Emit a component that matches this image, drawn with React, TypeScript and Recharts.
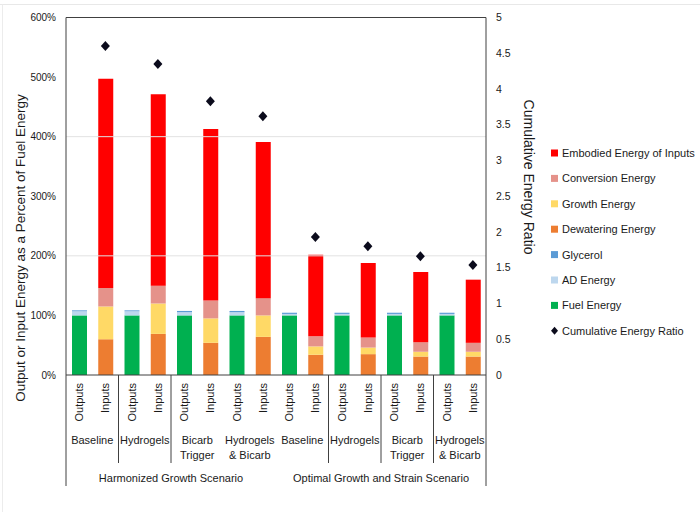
import React from 'react';
import { ComposedChart, Bar, Line, XAxis, YAxis, ReferenceLine } from 'recharts';

const groups = ['Baseline', 'Hydrogels', 'Bicarb|Trigger', 'Hydrogels|& Bicarb', 'Baseline', 'Hydrogels', 'Bicarb|Trigger', 'Hydrogels|& Bicarb'];
const scenarios = ['Harmonized Growth Scenario', 'Optimal Growth and Strain Scenario'];
const sides = ['Outputs', 'Inputs'];

const fuelEnergy = [100, 100, 100, 100, 100, 100, 100, 100];
const adEnergy = [7, 7, 5.5, 5.5, 2.5, 2.5, 2.5, 2.5];
const glycerol = [1.5, 1.5, 2, 2, 2, 2, 2, 2];
const dewateringEnergy = [60, 69, 54, 64, 34, 35, 31, 31];
const growthEnergy = [55, 51, 41, 36, 14, 11, 8, 8];
const conversionEnergy = [31, 30, 30, 29, 17, 17, 16, 15];
const embodiedEnergy = [351, 321, 288, 262, 137, 125, 118, 106];
const cumulativeRatio = [4.6, 4.35, 3.83, 3.62, 1.93, 1.8, 1.66, 1.54];

const leftTicks = [0, 100, 200, 300, 400, 500, 600];
const rightTicks = [0, 0.5, 1, 1.5, 2, 2.5, 3, 3.5, 4, 4.5, 5];
const gridValues = [200, 400];
// groups after which the reference draws no short separator line
const noSeparatorAfter = [2, 3];

const series = [
  { key: 'fuel', name: 'Fuel Energy', color: '#00B050', values: fuelEnergy, side: 'Outputs' },
  { key: 'ad', name: 'AD Energy', color: '#BDD7EE', values: adEnergy, side: 'Outputs' },
  { key: 'gly', name: 'Glycerol', color: '#5B9BD5', values: glycerol, side: 'Outputs' },
  { key: 'dew', name: 'Dewatering Energy', color: '#ED7D31', values: dewateringEnergy, side: 'Inputs' },
  { key: 'growth', name: 'Growth Energy', color: '#FFD966', values: growthEnergy, side: 'Inputs' },
  { key: 'conv', name: 'Conversion Energy', color: '#E5928A', values: conversionEnergy, side: 'Inputs' },
  { key: 'emb', name: 'Embodied Energy of Inputs', color: '#FF0000', values: embodiedEnergy, side: 'Inputs' },
];

const data = groups.flatMap((g, gi) =>
  sides.map((side) => {
    const row: any = { key: `${gi}-${side}`, side, group: gi };
    series.forEach((s) => {
      if (s.side === side) row[s.key] = s.values[gi];
    });
    if (side === 'Inputs') row.ratio = cumulativeRatio[gi];
    return row;
  })
);

const FONT = '"Liberation Sans", Arial, sans-serif';
const TEXT = '#1a1a1a';
const AXIS = '#404040';
const W = 700;
const H = 512;
const M = { top: 17.5, right: 184, left: 10, bottom: 0 };
const LEFT_W = 56;
const RIGHT_W = 30;
const PLOT_W = W - M.left - M.right - LEFT_W - RIGHT_W;
const BAND = PLOT_W / data.length;

function XTick(props: any) {
  const { x, y, index } = props;
  const row = data[index];
  if (!row) return <g />;
  const els: any[] = [];
  els.push(
    <text
      key="s"
      transform={`translate(${x},${y + 8}) rotate(-90)`}
      textAnchor="end"
      dominantBaseline="central"
      fontSize={11}
      fill={TEXT}
      fontFamily={FONT}
    >
      {row.side}
    </text>
  );
  if (index === 0) {
    els.push(<line key="l0" x1={x - BAND / 2} x2={x - BAND / 2} y1={y} y2={y + 111} stroke={AXIS} strokeWidth={1} />);
  }
  if (row.side === 'Inputs') {
    const gi = row.group;
    const lines = groups[gi].split('|');
    lines.forEach((t, li) => {
      els.push(
        <text
          key={'g' + li}
          x={x - BAND / 2}
          y={y + 65 + li * 15}
          textAnchor="middle"
          dominantBaseline="central"
          fontSize={11}
          fill={TEXT}
          fontFamily={FONT}
        >
          {t}
        </text>
      );
    });
    const last = index === data.length - 1;
    if (!noSeparatorAfter.includes(gi)) {
      els.push(
        <line key="sep" x1={x + BAND / 2} x2={x + BAND / 2} y1={y} y2={y + (last ? 111 : 88)} stroke={AXIS} strokeWidth={1} />
      );
    }
    if (gi === 1 || gi === 5) {
      els.push(
        <text
          key="sc"
          x={x + BAND / 2}
          y={y + 103}
          textAnchor="middle"
          dominantBaseline="central"
          fontSize={11}
          fill={TEXT}
          fontFamily={FONT}
        >
          {scenarios[gi === 1 ? 0 : 1]}
        </text>
      );
    }
  }
  return <g>{els}</g>;
}

function Diamond(props: any) {
  const { cx, cy, index } = props;
  if (cy == null || cx == null || isNaN(cy)) return <g key={'d' + index} />;
  return (
    <polygon
      key={'d' + index}
      points={`${cx},${cy - 5} ${cx + 4.5},${cy} ${cx},${cy + 5} ${cx - 4.5},${cy}`}
      fill="#0b0b1c"
    />
  );
}

const legendItems = [...series].reverse();

export default function App() {
  return (
    <div style={{ position: 'absolute', left: 0, top: 0, width: W, height: H, background: '#fff' }}>
      <ComposedChart width={W} height={H} data={data} margin={M} barSize={15}>
        {gridValues.map((v) => (
          <ReferenceLine key={v} yAxisId="left" y={v} stroke="#e2e2e2" strokeWidth={1} />
        ))}
        <XAxis
          dataKey="key"
          height={137}
          interval={0}
          tickLine={false}
          tickSize={0}
          tickMargin={0}
          tick={(p: any) => <XTick {...p} />}
          axisLine={{ stroke: AXIS }}
        />
        <YAxis
          yAxisId="left"
          domain={[0, 600]}
          ticks={leftTicks}
          width={LEFT_W}
          tickLine={false}
          tickSize={0}
          tickMargin={10}
          tickFormatter={(v: number) => `${v}%`}
          axisLine={{ stroke: AXIS }}
          tick={{ fontSize: 10, fill: TEXT, fontFamily: FONT }}
          allowDataOverflow
        />
        <YAxis
          yAxisId="right"
          orientation="right"
          domain={[0, 5]}
          ticks={rightTicks}
          width={RIGHT_W}
          tickLine={false}
          tickSize={0}
          tickMargin={10}
          axisLine={{ stroke: AXIS }}
          tick={{ fontSize: 10.5, fill: TEXT, fontFamily: FONT, textAnchor: 'start' }}
          allowDataOverflow
        />
        {series.map((s) => (
          <Bar key={s.key} yAxisId="left" dataKey={s.key} name={s.name} stackId="a" fill={s.color} isAnimationActive={false} />
        ))}
        <Line
          yAxisId="right"
          dataKey="ratio"
          name="Cumulative Energy Ratio"
          stroke="none"
          dot={(p: any) => <Diamond key={'dd' + p.index} {...p} />}
          activeDot={false}
          isAnimationActive={false}
        />
        <ReferenceLine yAxisId="left" y={600} stroke={AXIS} strokeWidth={1} />
      </ComposedChart>
      <svg width={W} height={H} style={{ position: 'absolute', left: 0, top: 0, pointerEvents: 'none' }}>
        <line x1={0} x2={W} y1={4.5} y2={4.5} stroke="#e8e8e8" />
        <line x1={2.5} x2={2.5} y1={4.5} y2={H} stroke="#ececec" />
        <text
          transform="translate(20,248) rotate(-90)"
          textAnchor="middle"
          dominantBaseline="central"
          fontSize={13.5}
          fill={TEXT}
          fontFamily={FONT}
        >
          Output or Input Energy as a Percent of Fuel Energy
        </text>
        <text
          transform="translate(529,177) rotate(90)"
          textAnchor="middle"
          dominantBaseline="central"
          fontSize={14}
          fill={TEXT}
          fontFamily={FONT}
        >
          Cumulative Energy Ratio
        </text>
        {legendItems.map((s, i) => (
          <g key={s.key}>
            <rect x={551} y={153 + i * 25.4 - 3.5} width={7} height={7} fill={s.color} />
            <text x={562} y={153 + i * 25.4} dominantBaseline="central" fontSize={11} fill={TEXT} fontFamily={FONT}>
              {s.name}
            </text>
          </g>
        ))}
        <polygon
          points={`554.5,${153 + 7 * 25.4 - 4} 558,${153 + 7 * 25.4} 554.5,${153 + 7 * 25.4 + 4} 551,${153 + 7 * 25.4}`}
          fill="#0b0b1c"
        />
        <text x={562} y={153 + 7 * 25.4} dominantBaseline="central" fontSize={11} fill={TEXT} fontFamily={FONT}>
          Cumulative Energy Ratio
        </text>
      </svg>
    </div>
  );
}
